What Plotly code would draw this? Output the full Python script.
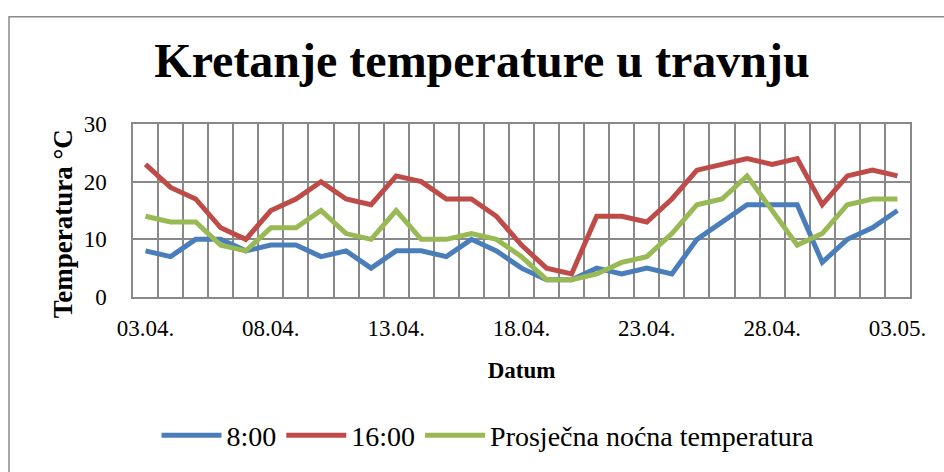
import plotly.graph_objects as go

dates = ["03.04.", "04.04.", "05.04.", "06.04.", "07.04.", "08.04.", "09.04.", "10.04.",
         "11.04.", "12.04.", "13.04.", "14.04.", "15.04.", "16.04.", "17.04.", "18.04.",
         "19.04.", "20.04.", "21.04.", "22.04.", "23.04.", "24.04.", "25.04.", "26.04.",
         "27.04.", "28.04.", "29.04.", "30.04.", "01.05.", "02.05.", "03.05."]
t_8 = [8, 7, 10, 10, 8, 9, 9, 7, 8, 5, 8, 8, 7, 10, 8, 5, 3, 3, 5, 4, 5, 4,
       10, 13, 16, 16, 16, 6, 10, 12, 15]
t_16 = [23, 19, 17, 12, 10, 15, 17, 20, 17, 16, 21, 20, 17, 17, 14, 9, 5, 4, 14, 14, 13, 17,
        22, 23, 24, 23, 24, 16, 21, 22, 21]
t_noc = [14, 13, 13, 9, 8, 12, 12, 15, 11, 10, 15, 10, 10, 11, 10, 7, 3, 3, 4, 6, 7, 11,
         16, 17, 21, 15, 9, 11, 16, 17, 17]
series_names = ["8:00", "16:00", "Prosječna noćna temperatura"]
colors = ["#4A7EBB", "#BE4B48", "#98B954"]
y_ticks = [0, 10, 20, 30]

idx = list(range(len(dates)))
tick_idx = idx[::5]
tick_txt = [dates[i] for i in tick_idx]

fig = go.Figure()
for name, vals, c in zip(series_names, [t_8, t_16, t_noc], colors):
    fig.add_trace(go.Scatter(x=idx, y=vals, name=name, mode="lines",
                             line=dict(color=c, width=5)))

font_fam = "Liberation Serif, Times New Roman, serif"
W, H = 944, 472
L, R, T, B = 133, 34, 124, 172
pw, ph = W - L - R, H - T - B

def px_x(p):
    return (p - L) / pw

def px_y(p):
    return (H - B - p) / ph

fig.update_layout(
    width=W, height=H,
    margin=dict(l=L, r=R, t=T, b=B),
    paper_bgcolor="white", plot_bgcolor="white",
    font=dict(family=font_fam, color="black", size=23),
    title=dict(text="<b>Kretanje temperature u travnju</b>", xref="container", x=482 / W,
               xanchor="center", y=1 - 60 / H, yanchor="middle",
               font=dict(size=48, family=font_fam)),
    showlegend=True,
    legend=dict(orientation="h", x=px_x(488), xanchor="center", y=px_y(441), yanchor="middle",
                font=dict(size=28), itemwidth=60, tracegroupgap=0),
    xaxis=dict(range=[-0.5, len(dates) - 0.5], tickvals=tick_idx, ticktext=tick_txt,
               showgrid=False, zeroline=False, ticks="", ticklabelstandoff=10,
               showline=True, linecolor="#898989", linewidth=1.5, mirror=True,
               tickfont=dict(size=23),
               minor=dict(tick0=-0.5, dtick=1, showgrid=True, gridcolor="#898989", gridwidth=1.5),
               title=dict(text="<b>Datum</b>", font=dict(size=23), standoff=22)),
    yaxis=dict(range=[0, 30], tickvals=y_ticks, showgrid=True, gridcolor="#898989", gridwidth=1.5,
               zeroline=False, ticks="", ticklabelstandoff=20,
               showline=True, linecolor="#898989", linewidth=1.5, mirror=True,
               tickfont=dict(size=23)),
)

fig.add_annotation(text="<b>Temperatura °C</b>", xref="paper", yref="paper",
                   x=px_x(63), y=px_y(226), xanchor="center", yanchor="middle",
                   textangle=-90, showarrow=False, font=dict(size=27, family=font_fam))

fig.add_shape(type="rect", xref="paper", yref="paper",
              x0=px_x(9), x1=px_x(1000), y0=px_y(520), y1=px_y(15),
              line=dict(color="#898989", width=1.5), layer="below")

fig.write_html("out.html", config={"displayModeBar": False},
               post_script="document.body.style.margin='0px';")
